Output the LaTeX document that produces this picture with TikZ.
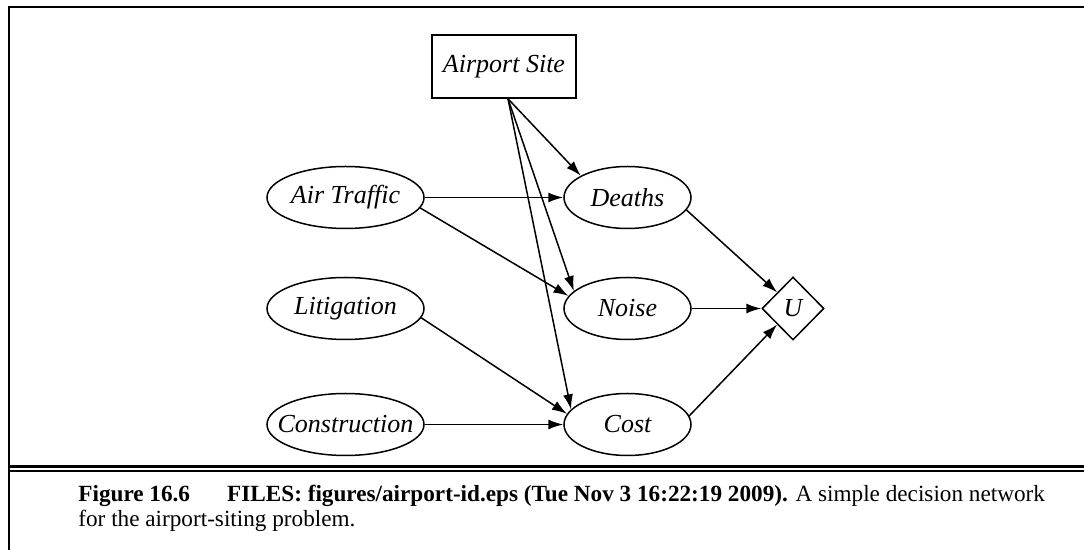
\documentclass[tikz,border=0pt]{standalone}
\usepackage{fontspec}
\setmainfont{Liberation Serif}
\usetikzlibrary{arrows.meta,shapes.geometric}
\tikzset{
  chance/.style={ellipse,draw,line width=0.75pt,inner sep=0pt,font=\fontsize{13}{15}\selectfont\itshape},
  wide/.style={minimum width=78.5pt,minimum height=31pt},
  narrow/.style={minimum width=63.5pt,minimum height=31pt},
  decision/.style={rectangle,draw,line width=0.8pt,inner sep=0pt,minimum width=72pt,minimum height=31.5pt,font=\fontsize{13}{15}\selectfont\itshape},
  utility/.style={diamond,draw,line width=0.75pt,inner sep=0pt,minimum width=31pt,minimum height=31.5pt,font=\fontsize{13}{15}\selectfont\itshape},
  edge/.style={line width=0.75pt,-{Latex[length=7.5pt,width=5pt]}},
  frameline/.style={line width=1pt},
  captext/.style={anchor=base west,inner sep=0pt,font=\fontsize{11.6}{13}\selectfont}
}
\begin{document}
\begin{tikzpicture}[x=0.5pt,y=-0.5pt]
\useasboundingbox (0,0) rectangle (1084,550);
% frame
\coordinate (tl) at (8.5,7.5);
\coordinate (tr) at (1084,7.5);
\coordinate (bl) at (8.5,550);
\coordinate (d1l) at (8.5,467);
\coordinate (d1r) at (1084,467);
\coordinate (d2l) at (8.5,471);
\coordinate (d2r) at (1084,471);
\draw[frameline] (bl) -- (tl) -- (tr);
\draw[line width=1.5pt] (d1l) -- (d1r);
\draw[frameline] (d2l) -- (d2r);
% nodes
\node[decision] (as) at (504,66.5) {Airport Site};
\node[chance,wide] (at) at (345.5,197.5) {\makebox[0pt]{Air Traffic}};
\node[chance,wide] (lit) at (345.5,308.5) {\makebox[0pt]{Litigation}};
\node[chance,wide] (con) at (345.5,424.5) {\makebox[0pt]{Construction}};
\node[chance,narrow] (deaths) at (627.5,197.5) {\makebox[0pt]{Deaths}};
\node[chance,narrow] (noise) at (627.5,308.5) {\makebox[0pt]{Noise}};
\node[chance,narrow] (cost) at (627.5,424.5) {\makebox[0pt]{Cost}};
\node[utility] (u) at (793,308.5) {U};
\coordinate (asb) at ([xshift=2pt]as.south);
% edges
\draw[edge] (asb) -- (deaths.155);
\draw[edge] (asb) -- (noise.162);
\draw[edge] (asb) -- (cost.165);
\draw[edge] (at.east) -- (deaths.west);
\draw[edge] (at.-8) -- (noise.168);
\draw[edge] (lit.-7) -- (cost.170);
\draw[edge] (con.east) -- (cost.west);
\draw[edge] (deaths.-12) -- (u.north west);
\draw[edge] (noise.east) -- (u.west);
\draw[edge] (cost.8) -- (u.south west);
% caption
\node[captext] (cap1) at (78,502) {\textbf{Figure 16.6}\hspace{1.6em}\textbf{FILES: figures/airport-id.eps (Tue Nov 3 16:22:19 2009).} A simple decision network};
\node[captext] (cap2) at (78,527) {for the airport-siting problem.};
\end{tikzpicture}
\end{document}
